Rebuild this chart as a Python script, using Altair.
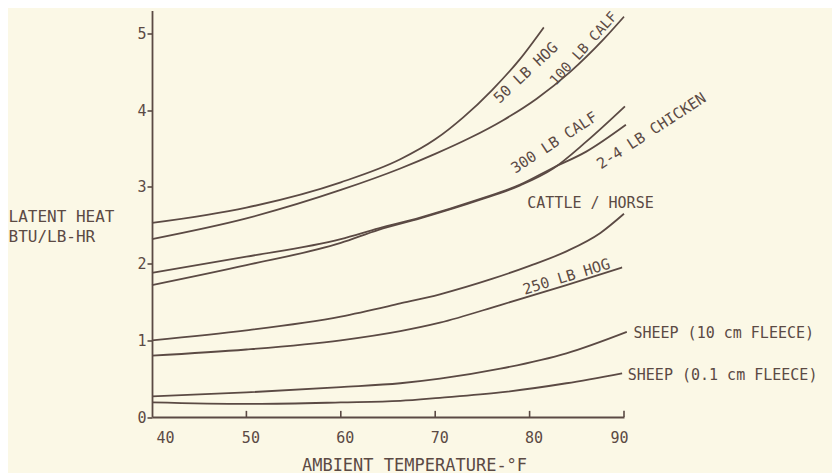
import altair as alt
import pandas as pd

INK = "#5b4a44"
BG = "#fbf8e6"
FONT = "DejaVu Sans Mono"

# ---- series (temperature °F, latent heat BTU/lb-hr) ----
T_HOG50 = [40, 50, 60, 66.3, 70, 73, 76, 79, 81.5]
V_HOG50 = [2.53, 2.73, 3.06, 3.36, 3.62, 3.91, 4.26, 4.67, 5.08]

T_CALF100 = [40, 50, 60, 66.3, 70, 73.7, 77.2, 80.75, 84.3, 87.8, 90]
V_CALF100 = [2.32, 2.59, 2.96, 3.24, 3.43, 3.64, 3.87, 4.15, 4.50, 4.92, 5.22]

T_CALF300 = [40, 50, 60, 64, 68.4, 74.7, 79, 82.5, 86, 90.1]
V_CALF300 = [1.72, 1.98, 2.27, 2.44, 2.59, 2.83, 3.02, 3.24, 3.59, 4.05]

T_CHICK = [40, 50, 60, 64, 68.4, 74.7, 79, 82.5, 86, 90.2]
V_CHICK = [1.88, 2.09, 2.32, 2.46, 2.60, 2.84, 3.03, 3.25, 3.46, 3.81]

T_CATTLE = [40, 50, 60, 66.3, 70.5, 76, 80, 83.9, 87.5, 90]
V_CATTLE = [1.00, 1.13, 1.31, 1.48, 1.60, 1.80, 1.97, 2.16, 2.40, 2.65]

T_HOG250 = [40, 50, 60, 66.3, 70.5, 76.9, 83.9, 89.8]
V_HOG250 = [0.80, 0.88, 1.00, 1.12, 1.23, 1.46, 1.72, 1.95]

T_SHEEP10 = [40, 50, 60, 66.3, 70.5, 76.9, 83.9, 90.3]
V_SHEEP10 = [0.27, 0.32, 0.39, 0.44, 0.50, 0.63, 0.83, 1.11]

T_SHEEP01 = [40, 50, 60, 66.3, 70.5, 76.9, 83.9, 89.8]
V_SHEEP01 = [0.19, 0.17, 0.19, 0.21, 0.25, 0.32, 0.44, 0.57]

SERIES = {
    "50 LB HOG": (T_HOG50, V_HOG50),
    "100 LB CALF": (T_CALF100, V_CALF100),
    "300 LB CALF": (T_CALF300, V_CALF300),
    "2-4 LB CHICKEN": (T_CHICK, V_CHICK),
    "CATTLE / HORSE": (T_CATTLE, V_CATTLE),
    "250 LB HOG": (T_HOG250, V_HOG250),
    "SHEEP (10 cm FLEECE)": (T_SHEEP10, V_SHEEP10),
    "SHEEP (0.1 cm FLEECE)": (T_SHEEP01, V_SHEEP01),
}

# ---- curve labels ----
LABEL_TEXT = ["50 LB HOG", "100 LB CALF", "300 LB CALF", "2-4 LB CHICKEN",
              "CATTLE / HORSE", "250 LB HOG"]
LABEL_T = [79.6, 85.75, 82.6, 92.9, 86.45, 83.9]
LABEL_V = [4.49, 4.80, 3.58, 3.73, 2.79, 1.83]
LABEL_ANGLE = [317, 312, 327, 327, 0, 343]
LABEL_SIZE = [15, 14, 15, 15, 15, 15]

SIDE_TEXT = ["SHEEP (10 cm FLEECE)", "SHEEP (0.1 cm FLEECE)"]
SIDE_T = [91.0, 90.4]
SIDE_V = [1.09, 0.55]

X_TICKS = [40, 50, 60, 70, 80, 90]
Y_TICKS = [0, 1, 2, 3, 4, 5]
X_INNER_TICKS = [50, 60, 70, 80, 90]
TICK_LEN = [0.08] * len(X_INNER_TICKS)

rows = []
for name, (ts, vs) in SERIES.items():
    for t, v in zip(ts, vs):
        rows.append({"series": name, "temp": t, "heat": v})
df = pd.DataFrame(rows)

lab_df = pd.DataFrame({"label": LABEL_TEXT, "temp": LABEL_T, "heat": LABEL_V,
                       "angle": LABEL_ANGLE, "fs": LABEL_SIZE})
side_df = pd.DataFrame({"label": SIDE_TEXT, "temp": SIDE_T, "heat": SIDE_V})
tick_df = pd.DataFrame({"temp": X_INNER_TICKS, "y0": [0] * len(X_INNER_TICKS),
                        "y1": TICK_LEN})

xscale = alt.Scale(domain=[40, 90], nice=False, zero=False)
yscale = alt.Scale(domain=[0, 5.3], nice=False)

x_axis = alt.Axis(values=X_TICKS, ticks=False, tickSize=0, labelPadding=13,
                  labelOffset=4, labelFontSize=15, grid=False, format="d",
                  title="AMBIENT TEMPERATURE-°F", titleX=262, titleY=48,
                  titleBaseline="middle", titleFontSize=17,
                  titleFontWeight="normal")
y_axis = alt.Axis(values=Y_TICKS, tickSize=5, labelPadding=1, labelFontSize=15,
                  grid=False, format="d",
                  title=["LATENT HEAT", "BTU/LB-HR"], titleAngle=0,
                  titleAlign="left", titleX=-144, titleY=205.8,
                  titleBaseline="middle", titleFontSize=16,
                  titleFontWeight="normal", titleLineHeight=20.7)

lines = alt.Chart(df).mark_line(
    interpolate="monotone", strokeWidth=1.8, color=INK
).encode(
    x=alt.X("temp:Q", scale=xscale, axis=x_axis),
    y=alt.Y("heat:Q", scale=yscale, axis=y_axis),
    detail="series:N",
)

ticks = alt.Chart(tick_df).mark_rule(color=INK, strokeWidth=1.6).encode(
    x=alt.X("temp:Q", scale=xscale),
    y=alt.Y("y0:Q", scale=yscale),
    y2="y1:Q",
)

labels = alt.Chart(lab_df).mark_text(
    font=FONT, color=INK, align="center", baseline="middle"
).encode(
    x=alt.X("temp:Q", scale=xscale),
    y=alt.Y("heat:Q", scale=yscale),
    text="label:N",
    angle=alt.Angle("angle:Q", scale=None),
    size=alt.Size("fs:Q", scale=None, legend=None),
)

side = alt.Chart(side_df).mark_text(
    font=FONT, fontSize=15, color=INK, align="left", baseline="middle"
).encode(
    x=alt.X("temp:Q", scale=xscale),
    y=alt.Y("heat:Q", scale=yscale),
    text="label:N",
)

chart = alt.layer(lines, ticks, labels, side).properties(
    width=472,
    height=406.5,
    autosize=alt.AutoSizeParams(type="none"),
    padding={"left": 144, "top": 2.5, "right": 208, "bottom": 56},
).configure(
    background=BG, font=FONT
).configure_view(
    stroke=None
).configure_axis(
    domainColor=INK, domainWidth=1.8, tickColor=INK, tickWidth=1.6,
    labelColor=INK, titleColor=INK, labelFont=FONT, titleFont=FONT,
)

chart.save("out.html", embed_options={"renderer": "svg", "actions": False})
